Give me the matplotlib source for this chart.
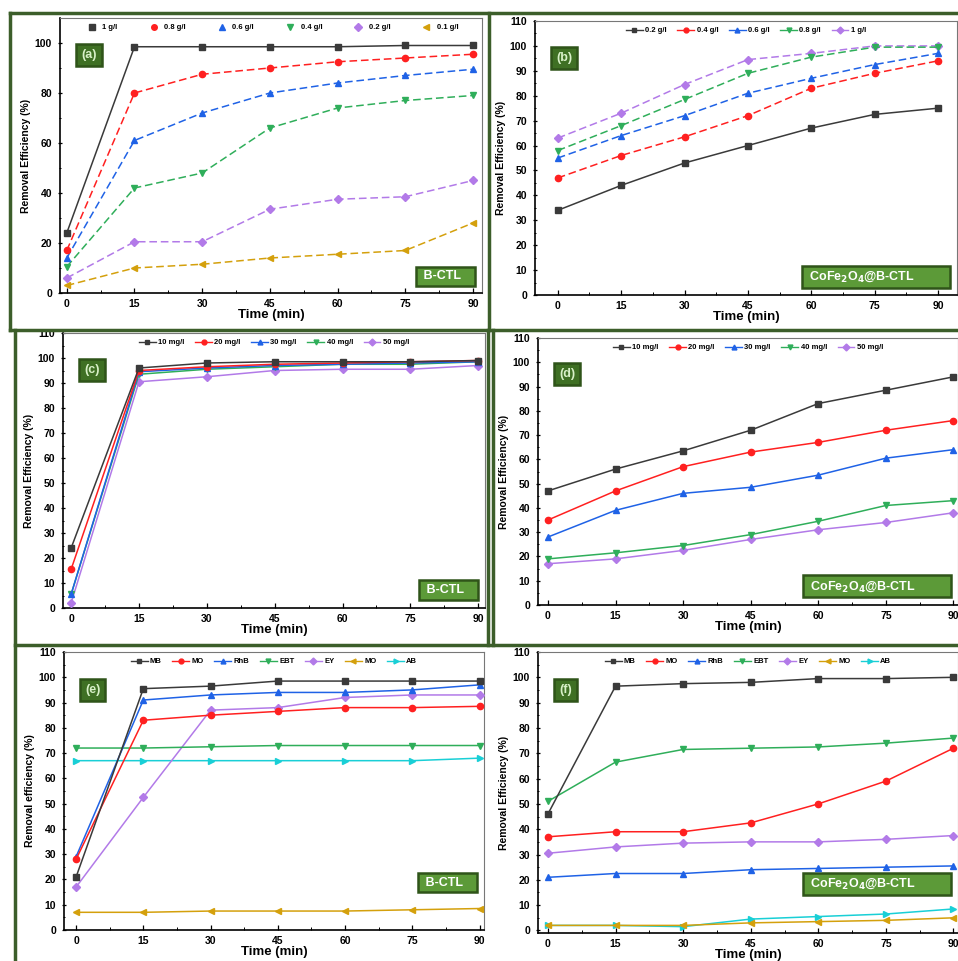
import numpy as np
import matplotlib
matplotlib.use("Agg")
import matplotlib.pyplot as plt
from matplotlib.lines import Line2D

plt.rcParams['font.family'] = ['Liberation Sans', 'DejaVu Sans']
plt.rcParams['font.weight'] = 'bold'

W, H = 958, 961
time = [0, 15, 30, 45, 60, 75, 90]

# panel (a) dose, B-CTL
a_labels = ['1 g/l', '0.8 g/l', '0.6 g/l', '0.4 g/l', '0.2 g/l', '0.1 g/l']
a_vals = [
    [24, 98.5, 98.5, 98.5, 98.5, 99, 99],
    [17, 80, 87.5, 90, 92.5, 94, 95.5],
    [14, 61, 72, 80, 84, 87, 89.5],
    [10.5, 42, 48, 66, 74, 77, 79],
    [6, 20.5, 20.5, 33.5, 37.5, 38.5, 45],
    [3, 10, 11.5, 14, 15.5, 17, 28],
]
# panel (b) dose, composite
b_labels = ['0.2 g/l', '0.4 g/l', '0.6 g/l', '0.8 g/l', '1 g/l']
b_vals = [
    [34, 44, 53, 60, 67, 72.5, 75],
    [47, 56, 63.5, 72, 83, 89, 94],
    [55, 64, 72, 81, 87, 92.5, 97],
    [58, 68, 78.5, 89, 95.5, 99.5, 99.5],
    [63, 73, 84.5, 94.5, 97, 100, 100],
]
# panel (c) concentration, B-CTL
c_labels = ['10 mg/l', '20 mg/l', '30 mg/l', '40 mg/l', '50 mg/l']
c_vals = [
    [24, 96, 98, 98.5, 98.5, 98.5, 99],
    [15.5, 95, 96.5, 97.5, 98, 98.5, 99],
    [5.5, 94.5, 96, 97, 97.5, 98, 98.5],
    [5.5, 93.5, 95.5, 96.5, 97.5, 97.5, 98.5],
    [2, 90.5, 92.5, 95, 95.5, 95.5, 97],
]
# panel (d) concentration, composite
d_labels = c_labels
d_vals = [
    [47, 56, 63.5, 72, 83, 88.5, 94],
    [35, 47, 57, 63, 67, 72, 76],
    [28, 39, 46, 48.5, 53.5, 60.5, 64],
    [19, 21.5, 24.5, 29, 34.5, 41, 43],
    [17, 19, 22.5, 27, 31, 34, 38],
]
# panel (e) dyes, B-CTL
e_labels = ['MB', 'MO', 'RhB', 'EBT', 'EY', 'MO', 'AB']
e_vals = [
    [21, 95.5, 96.5, 98.5, 98.5, 98.5, 98.5],
    [28, 83, 85, 86.5, 88, 88, 88.5],
    [29, 91, 93, 94, 94, 95, 97],
    [72, 72, 72.5, 73, 73, 73, 73],
    [17, 52.5, 87, 88, 92, 93, 93],
    [7, 7, 7.5, 7.5, 7.5, 8, 8.5],
    [67, 67, 67, 67, 67, 67, 68],
]
# panel (f) dyes, composite
f_labels = e_labels
f_vals = [
    [46, 96.5, 97.5, 98, 99.5, 99.5, 100],
    [37, 39, 39, 42.5, 50, 59, 72],
    [21, 22.5, 22.5, 24, 24.5, 25, 25.5],
    [51, 66.5, 71.5, 72, 72.5, 74, 76],
    [30.5, 33, 34.5, 35, 35, 36, 37.5],
    [2, 2, 2, 3, 3.5, 4, 5],
    [2, 2, 1.5, 4.5, 5.5, 6.5, 8.5],
]

colors = ['#3a3a3a', '#ff2020', '#1f62e6', '#2fae5a', '#b27ae8', '#d4a00c', '#19cfd6']
markers = ['s', 'o', '^', 'v', 'D', '<', '>']

frame_green = '#3c5e2a'
box_dark = '#2f5419'
box_fill = '#5c9a38'

fig = plt.figure(figsize=(W / 100, H / 100), dpi=100)


def px_axes(l, t, r, b):
    return fig.add_axes([l / W, 1 - b / H, (r - l) / W, (b - t) / H])


def draw_panel(ax, vals, labels, tag, box_text, xlim, ylim, ystep, dashed,
               box_y, ylabel='Removal Efficiency (%)', marker_only_legend=False,
               colspace=1.4):
    handles = []
    for i, v in enumerate(vals):
        ls = '-'
        if dashed and i > 0:
            ls = (0, (5, 2.5))
        ax.plot(time, v, color=colors[i], ls=ls, lw=1.1, marker=markers[i],
                ms=4.5, mec=colors[i], zorder=3 + (len(vals) - i) * 0.01)
        if marker_only_legend:
            handles.append(Line2D([], [], color=colors[i], ls='none',
                                  marker=markers[i], ms=4, label=labels[i]))
        else:
            handles.append(Line2D([], [], color=colors[i], lw=1.0,
                                  marker=markers[i], ms=3.5, label=labels[i]))
    ax.set_xlim(*xlim)
    ax.set_ylim(*ylim)
    ax.set_xticks(time)
    ax.set_xticks([7.5, 22.5, 37.5, 52.5, 67.5, 82.5], minor=True)
    ax.set_yticks(np.arange(0, 101 if ystep == 20 else 111, ystep))
    ax.set_yticks(np.arange(0, 111, ystep / 2), minor=True)
    ax.tick_params(axis='both', which='major', labelsize=7.5, direction='in',
                   length=3.5, width=0.9, pad=4)
    ax.tick_params(axis='both', which='minor', direction='in', length=2, width=0.7)
    ax.tick_params(axis='y', which='both', direction='inout')
    for s in ['left', 'bottom']:
        ax.spines[s].set_linewidth(1.2)
    for s in ['top', 'right']:
        ax.spines[s].set_linewidth(0.8)
        ax.spines[s].set_color('#777777')
    ax.set_xlabel('Time (min)', fontsize=9.5, fontweight='bold', labelpad=0)
    ax.set_ylabel(ylabel, fontsize=7.5, fontweight='bold', labelpad=3)
    ax.legend(handles=handles, loc='upper center', bbox_to_anchor=(0.5, 1.0),
              ncol=len(vals), frameon=False, fontsize=5.5, handlelength=2.2,
              columnspacing=colspace, handletextpad=0.3, borderaxespad=0.4)
    ax.text(0.05, 0.865, tag, transform=ax.transAxes, fontsize=9,
            fontweight='bold', color='#d8f0c8', ha='left', va='center',
            bbox=dict(boxstyle='square,pad=0.4', fc='#3f7024', ec=box_dark, lw=1.8))
    ax.text(0.975, box_y, box_text, transform=ax.transAxes, fontsize=9,
            fontweight='bold', color='white', ha='right', va='center',
            bbox=dict(boxstyle='square,pad=0.3', fc=box_fill, ec=box_dark, lw=1.8))


comp = ' CoFe$_2$O$_4$@B-CTL          '
bctl = ' B-CTL   '

ax_a = px_axes(60, 18, 482, 293)
draw_panel(ax_a, a_vals, a_labels, '(a)', bctl, (-1.5, 92), (0, 110), 20,
           True, 0.06, marker_only_legend=True, colspace=3.6)

ax_b = px_axes(535, 21, 957, 295)
draw_panel(ax_b, b_vals, b_labels, '(b)', comp, (-5.4, 94.5), (0, 110), 10, True, 0.065)

ax_c = px_axes(63, 333, 485, 608)
draw_panel(ax_c, c_vals, c_labels, '(c)', bctl, (-1.8, 91.5), (0, 110), 10, False, 0.065)

ax_d = px_axes(538, 338, 958, 605)
draw_panel(ax_d, d_vals, d_labels, '(d)', comp, (-2.2, 91), (0, 110), 10, False, 0.07)

ax_e = px_axes(64, 652, 484, 930)
draw_panel(ax_e, e_vals, e_labels, '(e)', bctl, (-2.7, 91), (0, 110), 10, False, 0.17,
           ylabel='Removal efficiency (%)')

ax_f = px_axes(538, 652, 958, 933)
draw_panel(ax_f, f_vals, f_labels, '(f)', comp, (-2.2, 91), (-1, 110), 10, False, 0.175)

# green frames around the panels
frame_lines = [
    ((10, 13), (958, 13)),
    ((10, 330), (958, 330)),
    ((15, 645), (958, 645)),
    ((10, 13), (10, 330)),
    ((489, 13), (489, 330)),
    ((15, 330), (15, 961)),
    ((488, 330), (488, 645)),
    ((493, 330), (493, 645)),
]
for (x0, y0), (x1, y1) in frame_lines:
    fig.add_artist(Line2D([x0 / W, x1 / W], [1 - y0 / H, 1 - y1 / H],
                          color=frame_green, lw=2.5, transform=fig.transFigure))

fig.savefig('out.png', dpi=100)
